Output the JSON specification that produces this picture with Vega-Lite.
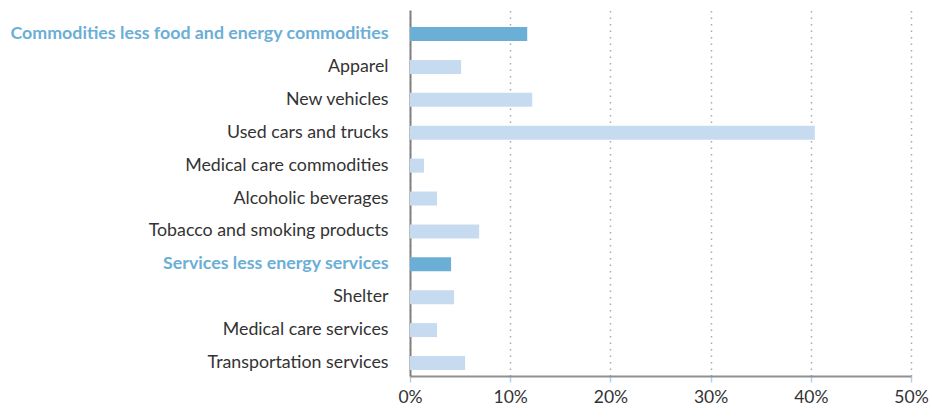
{
  "$schema": "https://vega.github.io/schema/vega-lite/v6.json",
  "autosize": "none",
  "width": 501,
  "height": 366,
  "padding": {"left": 410, "top": 10, "right": 21, "bottom": 44},
  "background": "white",
  "config": {"view": {"stroke": null}, "font": "Lato"},
  "data": {
    "values": [
      {"category": "Commodities less food and energy commodities", "change": 11.7, "level": "header"},
      {"category": "Apparel", "change": 5.1, "level": "item"},
      {"category": "New vehicles", "change": 12.2, "level": "item"},
      {"category": "Used cars and trucks", "change": 40.4, "level": "item"},
      {"category": "Medical care commodities", "change": 1.4, "level": "item"},
      {"category": "Alcoholic beverages", "change": 2.7, "level": "item"},
      {"category": "Tobacco and smoking products", "change": 6.9, "level": "item"},
      {"category": "Services less energy services", "change": 4.1, "level": "header"},
      {"category": "Shelter", "change": 4.4, "level": "item"},
      {"category": "Medical care services", "change": 2.7, "level": "item"},
      {"category": "Transportation services", "change": 5.5, "level": "item"}
    ]
  },
  "mark": {"type": "bar"},
  "encoding": {
    "y": {
      "field": "category",
      "type": "nominal",
      "sort": null,
      "scale": {"paddingInner": 0.5745, "paddingOuter": 0.35, "align": 0.74},
      "axis": {
        "title": null,
        "ticks": false,
        "labelPadding": 22,
        "labelFontSize": 17.8,
        "labelLimit": 500,
        "domainColor": "#808080",
        "domainWidth": 2,
        "labelColor": {"condition": {"test": "indexof(['Commodities less food and energy commodities','Services less energy services'], datum.value) >= 0", "value": "#6baed6"}, "value": "#333333"},
        "labelFontWeight": {"condition": {"test": "indexof(['Commodities less food and energy commodities','Services less energy services'], datum.value) >= 0", "value": "bold"}, "value": "normal"}
      }
    },
    "x": {
      "field": "change",
      "type": "quantitative",
      "scale": {"domain": [0, 50], "nice": false},
      "axis": {
        "title": null,
        "values": [0, 10, 20, 30, 40, 50],
        "labelExpr": "datum.value + '%'",
        "labelFlush": false,
        "labelFontSize": 17.5,
        "labelColor": "#333333",
        "labelPadding": 6,
        "tickSize": 6,
        "tickColor": "#b4cfe8",
        "tickWidth": 1.5,
        "domainColor": "#909090",
        "domainWidth": 2,
        "grid": true,
        "gridColor": "#aaaaaa",
        "gridDash": [1.5, 5],
        "gridWidth": 1.5
      }
    },
    "color": {
      "field": "level",
      "type": "nominal",
      "scale": {"domain": ["header", "item"], "range": ["#6baed6", "#c6dbef"]},
      "legend": null
    }
  }
}
